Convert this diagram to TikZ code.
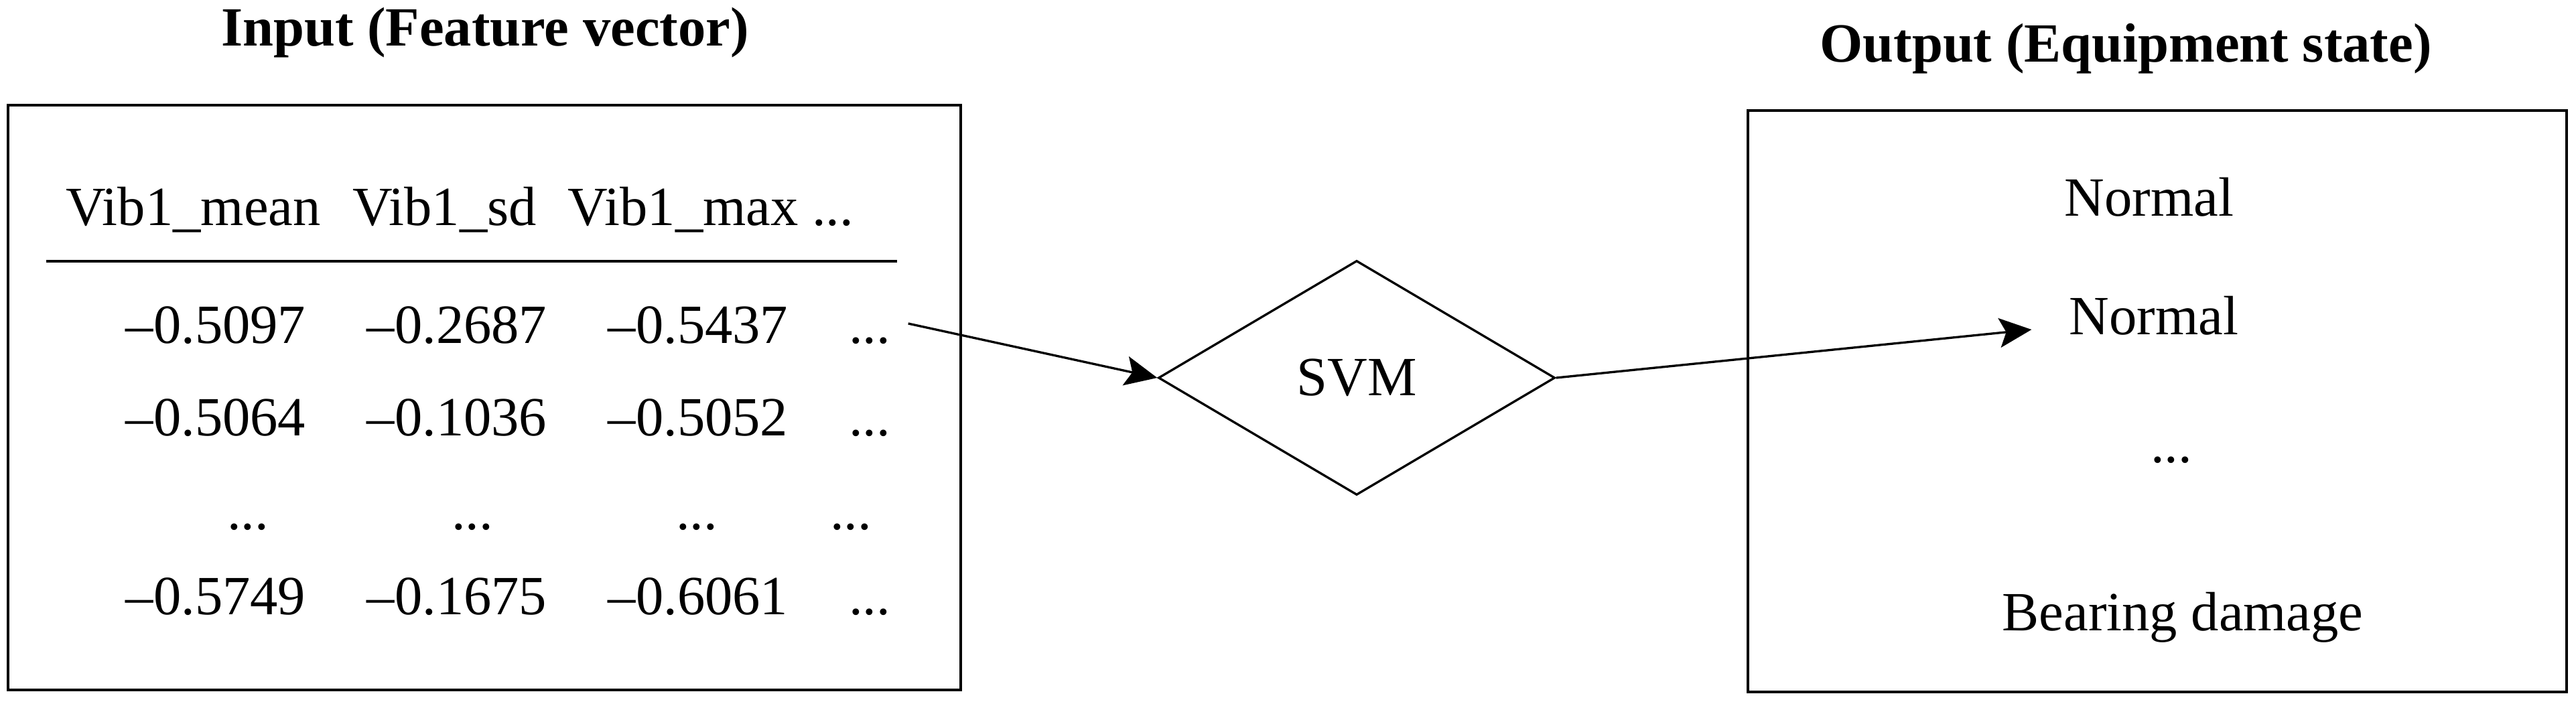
\documentclass[tikz,border=0pt]{standalone}
\usepackage{fontspec}
\setmainfont{Liberation Serif}
\usetikzlibrary{arrows.meta, shapes.geometric}

\begin{document}
\begin{tikzpicture}[>={Stealth[length=0.48cm, width=0.44cm, inset=0.1cm]}, line width=0.95pt,
		font=\fontsize{23.5}{28}\selectfont,
		cell/.style={anchor=base, inner sep=0.25cm, text height=0.6cm, text depth=0.02cm},
		heading/.style={anchor=base, font=\fontsize{23.5}{28}\selectfont\bfseries}]
		\useasboundingbox (0, 0) rectangle (38.45, -10.5);

		% titles
		\node[heading] (intitle) at (7.24, -0.68) {Input (Feature vector)};
		\node[heading] (outtitle) at (31.73, -0.92) {Output (Equipment state)};

		% frames
		\node[draw, minimum width=14.22cm, minimum height=8.73cm] (inbox) at (7.23, -5.935) {};
		\node[draw, minimum width=12.22cm, minimum height=8.68cm] (outbox) at (32.20, -5.99) {};

		% feature table
		\node[cell] (h1) at (2.885, -3.36) {Vib1\_mean};
		\node[cell] (h2) at (6.635, -3.36) {Vib1\_sd};
		\node[cell] (h3) at (10.61, -3.36) {Vib1\_max ...};
		\draw (0.69, -3.90) -- (13.39, -3.90);

		\node[cell] (r1a) at (3.22, -5.12) {–0.5097};
		\node[cell] (r1b) at (6.82, -5.12) {–0.2687};
		\node[cell] (r1c) at (10.42, -5.12) {–0.5437};
		\node[cell] (r1d) at (12.98, -5.12) {...};

		\node[cell] (r2a) at (3.22, -6.50) {–0.5064};
		\node[cell] (r2b) at (6.82, -6.50) {–0.1036};
		\node[cell] (r2c) at (10.42, -6.50) {–0.5052};
		\node[cell] (r2d) at (12.98, -6.50) {...};

		\node[cell] (r3a) at (3.70, -7.90) {...};
		\node[cell] (r3b) at (7.05, -7.90) {...};
		\node[cell] (r3c) at (10.40, -7.90) {...};
		\node[cell] (r3d) at (12.70, -7.90) {...};

		\node[cell] (r4a) at (3.22, -9.17) {–0.5749};
		\node[cell] (r4b) at (6.82, -9.17) {–0.1675};
		\node[cell] (r4c) at (10.42, -9.17) {–0.6061};
		\node[cell] (r4d) at (12.98, -9.17) {...};

		% classifier
		\node[draw, diamond, minimum width=5.92cm, minimum height=3.50cm, inner sep=0pt] (svm) at (20.25, -5.64) {SVM};

		% states
		\node[cell] (s1) at (32.08, -3.22) {Normal};
		\node[cell] (s2) at (32.15, -4.99) {Normal};
		\node[cell] (s3) at (32.41, -6.90) {...};
		\node[cell] (s4) at (32.58, -9.41) {Bearing damage};

		\path[->] (r1d.east) edge (svm.west)
		(svm.east) edge[shorten >=0.3cm] ([yshift=0.1cm]s2.base west);
	\end{tikzpicture}
\end{document}
